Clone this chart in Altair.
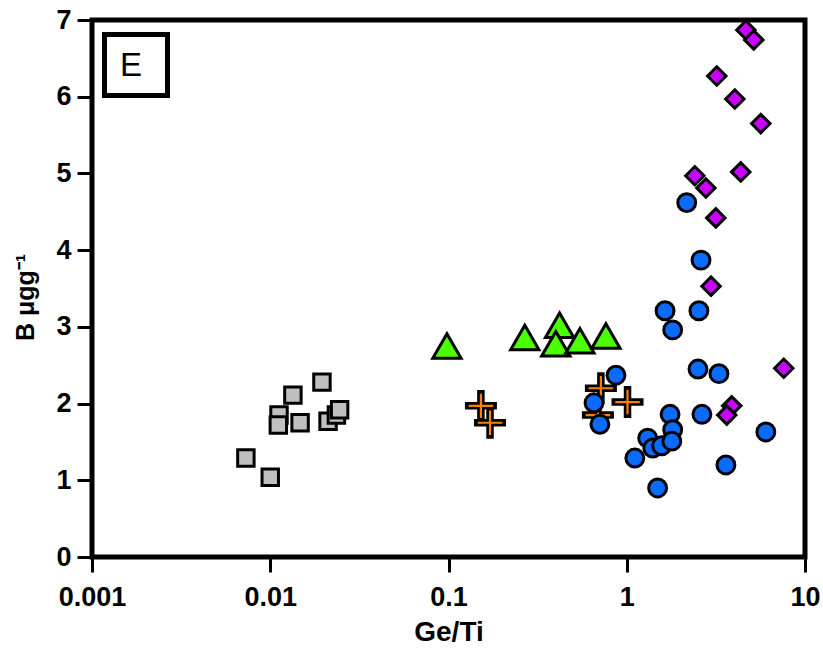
import altair as alt
import pandas as pd

# ---- data ----
sq_x = [0.0073, 0.0100, 0.0112, 0.0111, 0.0134, 0.0147, 0.0195, 0.0211, 0.0235, 0.0245]
sq_y = [1.29, 1.04, 1.85, 1.72, 2.11, 1.75, 2.28, 1.77, 1.85, 1.92]

tri_x = [0.098, 0.268, 0.42, 0.40, 0.546, 0.764]
tri_y = [2.75, 2.86, 3.02, 2.78, 2.82, 2.88]

cr_x = [0.152, 0.171, 0.716, 1.01, 0.689]
cr_y = [1.97, 1.75, 2.20, 2.02, 1.85]

ci_x = [2.17, 2.61, 1.64, 1.81, 2.54, 0.87, 2.51, 3.29, 0.655, 0.707, 1.75, 2.64,
        1.81, 1.31, 1.40, 1.57, 1.79, 1.11, 1.49, 3.60, 6.03]
ci_y = [4.62, 3.87, 3.21, 2.96, 3.21, 2.37, 2.45, 2.39, 2.01, 1.73, 1.86, 1.86,
        1.66, 1.55, 1.42, 1.45, 1.51, 1.29, 0.90, 1.20, 1.63]

di_x = [4.66, 5.16, 3.20, 4.04, 5.65, 4.36, 2.41, 2.78, 3.16, 2.97, 7.6, 3.88, 3.64]
di_y = [6.87, 6.74, 6.27, 5.97, 5.65, 5.02, 4.97, 4.81, 4.42, 3.53, 2.46, 1.97, 1.85]

x_ticks = [0.001, 0.01, 0.1, 1, 10]
y_ticks = [0, 1, 2, 3, 4, 5, 6, 7]

FONT = "Liberation Sans"

xscale = alt.Scale(type="log", domain=[0.001, 10], nice=False)
yscale = alt.Scale(domain=[0, 7], nice=False, zero=False)

xaxis = alt.Axis(values=x_ticks, format="~g", title="Ge/Ti", titleY=75,
                 titleBaseline="middle", titleFontSize=28,
                 labelFlush=False, labelPadding=12)
yaxis = alt.Axis(values=y_ticks, title="B μgg⁻¹", titleX=-67, titleY=277,
                 titleBaseline="middle", titleAlign="center", titleFontSize=25,
                 labelPadding=6)


def enc(chart):
    return chart.encode(
        x=alt.X("x:Q", scale=xscale, axis=xaxis),
        y=alt.Y("y:Q", scale=yscale, axis=yaxis),
    )


def df(xs, ys):
    return pd.DataFrame({"x": xs, "y": ys})


squares = enc(alt.Chart(df(sq_x, sq_y)).mark_point(
    shape="square", size=270, filled=True, fill="#c0c0c0", stroke="black",
    strokeWidth=3, opacity=1))

triangles = enc(alt.Chart(df(tri_x, tri_y)).mark_point(
    shape="triangle-up", size=800, filled=True, fill="#4cff00", stroke="black",
    strokeWidth=3, opacity=1))

cross_path = "M-1,0H1M0,-1V1"
cross_black = enc(alt.Chart(df(cr_x, cr_y)).mark_point(
    shape=cross_path, size=600, filled=False, stroke="black", strokeWidth=7.5,
    strokeCap="square", opacity=1))
cross_orange = enc(alt.Chart(df(cr_x, cr_y)).mark_point(
    shape=cross_path, size=600, filled=False, stroke="#ff7f00", strokeWidth=2.2,
    opacity=1))

circles = enc(alt.Chart(df(ci_x, ci_y)).mark_point(
    shape="circle", size=320, filled=True, fill="#0a6cff", stroke="black",
    strokeWidth=3, opacity=1))

diamonds = enc(alt.Chart(df(di_x, di_y)).mark_point(
    shape="diamond", size=340, filled=True, fill="#cc00ff", stroke="black",
    strokeWidth=3, opacity=1))

box = alt.Chart(pd.DataFrame({"label": ["E"]})).mark_rect(
    fill="white", stroke="black", strokeWidth=5
).encode(x=alt.value(12.5), x2=alt.value(75.5), y=alt.value(14.5), y2=alt.value(75.5))

box_text = alt.Chart(pd.DataFrame({"label": ["E"]})).mark_text(
    font=FONT, fontSize=33, fontWeight="normal", color="black",
    align="center", baseline="middle"
).encode(x=alt.value(39), y=alt.value(46), text="label:N")

chart = alt.layer(
    squares, triangles, cross_black, cross_orange, circles, diamonds, box, box_text
).properties(
    width=713, height=537,
    autosize=alt.AutoSizeParams(type="none"),
    padding={"left": 92, "top": 20, "right": 18, "bottom": 93},
    background="white",
).configure_view(
    stroke="black", strokeWidth=5
).configure_axis(
    domain=False, grid=False,
    ticks=True, tickColor="black", tickWidth=3, tickSize=15,
    labelFont=FONT, labelFontSize=27, labelFontWeight="bold", labelColor="black",
    titleFont=FONT, titleFontWeight="bold", titleColor="black",
)

chart.save("out.html", embed_options={"renderer": "svg", "actions": False})
